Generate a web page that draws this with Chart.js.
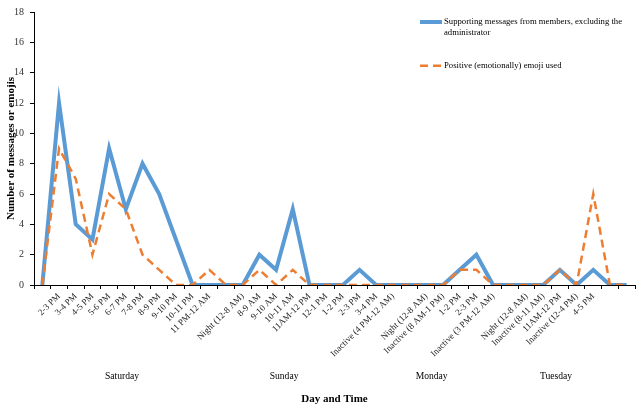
<!DOCTYPE html>
<html>
<head>
<meta charset="utf-8">
<script src="https://cdn.jsdelivr.net/npm/chart.js@4/dist/chart.umd.min.js"></script>
<style>
  html, body { margin: 0; padding: 0; background: #fff; }
  #wrap { position: relative; width: 642px; height: 407px; }
</style>
</head>
<body>
<div id="wrap"><canvas id="c" width="642" height="407"></canvas></div>
<script>
// ---- data ----
const categories = [
  "", "2-3 PM", "3-4 PM", "4-5 PM", "5-6 PM", "6-7 PM", "7-8 PM", "8-9 PM", "9-10 PM", "10-11 PM", "11 PM-12 AM", "",
  "Night (12-8 AM)", "8-9 AM", "9-10 AM", "10-11 AM", "11AM-12 PM", "12-1 PM", "1-2 PM", "2-3 PM", "3-4 PM", "Inactive (4 PM-12 AM)", "",
  "Night (12-8 AM)", "Inactive (8 AM-1 PM)", "1-2 PM", "2-3 PM", "Inactive (3 PM-12 AM)", "",
  "Night (12-8 AM)", "Inactive (8-11 AM)", "11AM-12 PM", "Inactive (12-4 PM)", "4-5 PM", "", ""
];
const supportingMessages = [0, 12, 4, 3, 9, 5, 8, 6, 3, 0, 0, 0, 0, 2, 1, 5, 0, 0, 0, 1, 0, 0, 0, 0, 0, 1, 2, 0, 0, 0, 0, 1, 0, 1, 0, 0];
const positiveEmoji      = [0, 9, 7, 2, 6, 5, 2, 1, 0, 0, 1, 0, 0, 1, 0, 1, 0, 0, 0, 0, 0, 0, 0, 0, 0, 1, 1, 0, 0, 0, 0, 1, 0, 6, 0, 0];
const seriesNames = ["Supporting messages from members, excluding the administrator", "Positive (emotionally) emoji used"];
const dayNames = ["Saturday", "Sunday", "Monday", "Tuesday"];
const yTicks = [0, 2, 4, 6, 8, 10, 12, 14, 16, 18];
const xTitle = "Day and Time";
const yTitle = "Number of messages or emojis";

// ---- drawing ----
const FONT = '"Liberation Serif", "Times New Roman", serif';

const dayLabelPlugin = {
  id: 'dayLabels',
  afterDraw(chart, args, opts) {
    const ctx = chart.ctx, xs = chart.scales.x;
    ctx.save();
    ctx.font = '9.6px ' + FONT;
    ctx.fillStyle = '#000';
    ctx.textAlign = 'center';
    ctx.textBaseline = 'middle';
    dayNames.forEach((d, i) => {
      ctx.fillText(d, xs.getPixelForValue(opts.centers[i]), opts.y);
    });
    ctx.restore();
  }
};

const legendPlugin = {
  id: 'wrapLegend',
  afterDraw(chart, args, opts) {
    const ctx = chart.ctx;
    ctx.save();
    ctx.font = opts.fontSize + 'px ' + FONT;
    ctx.fillStyle = '#000';
    ctx.textAlign = 'left';
    ctx.textBaseline = 'middle';
    chart.data.datasets.forEach((ds, i) => {
      const y = opts.rows[i];
      ctx.save();
      ctx.strokeStyle = ds.borderColor;
      ctx.lineWidth = ds.borderWidth;
      ctx.setLineDash(ds.borderDash || []);
      ctx.beginPath();
      ctx.moveTo(opts.x, y);
      ctx.lineTo(opts.x + opts.sample, y);
      ctx.stroke();
      ctx.restore();
      // wrap text
      const words = ds.label.split(' ');
      const lines = [];
      let cur = '';
      words.forEach(w => {
        const t = cur ? cur + ' ' + w : w;
        if (ctx.measureText(t).width > opts.maxWidth && cur) { lines.push(cur); cur = w; }
        else cur = t;
      });
      if (cur) lines.push(cur);
      lines.forEach((l, k) => ctx.fillText(l, opts.x + opts.sample + 2, y + k * opts.lineHeight));
    });
    ctx.restore();
  }
};

new Chart(document.getElementById('c'), {
  type: 'line',
  data: {
    labels: categories,
    datasets: [
      { label: seriesNames[0], data: supportingMessages, borderColor: '#5B9BD5', backgroundColor: '#5B9BD5',
        borderWidth: 4, pointRadius: 0, tension: 0, fill: false, order: 1, borderJoinStyle: 'miter', borderCapStyle: 'butt' },
      { label: seriesNames[1], data: positiveEmoji, borderColor: '#ED7D31', backgroundColor: '#ED7D31',
        borderWidth: 2.5, borderDash: [8, 5], pointRadius: 0, tension: 0, fill: false, order: 0 }
    ]
  },
  options: {
    responsive: false,
    animation: false,
    devicePixelRatio: 1,
    layout: { padding: { left: 0, top: 7, right: 7, bottom: 1 } },
    plugins: {
      legend: { display: false },
      tooltip: { enabled: false },
      dayLabels: { centers: [4.77, 14.48, 23.32, 30.77], y: 376.5 },
      wrapLegend: { x: 420, sample: 22, rows: [22, 65.7], lineHeight: 10.7, maxWidth: 182, fontSize: 8.7 }
    },
    scales: {
      x: {
        type: 'category',
        offset: true,
        grid: { offset: true, drawOnChartArea: false, drawTicks: true, tickLength: 4, color: '#000', lineWidth: 1 },
        border: { display: true, color: '#000', width: 1 },
        ticks: { autoSkip: false, maxRotation: 45, minRotation: 45, padding: 2, color: '#222',
                 font: { family: FONT, size: 9 } },
        title: { display: true, text: xTitle, color: '#000', padding: { top: 0, bottom: 0 },
                 font: { family: FONT, size: 11, weight: 'bold' } },
        afterFit(s) { s.height = 121; }
      },
      y: {
        min: 0, max: 18,
        afterBuildTicks(s) { s.ticks = yTicks.map(v => ({ value: v })); },
        grid: { drawOnChartArea: false, drawTicks: true, tickLength: 4, color: '#000', lineWidth: 1 },
        border: { display: true, color: '#000', width: 1 },
        ticks: { padding: 6, color: '#333', font: { family: FONT, size: 10 } },
        title: { display: true, text: yTitle, color: '#000', padding: { top: 5, bottom: 0 },
                 font: { family: FONT, size: 11, weight: 'bold' } },
        afterFit(s) { s.width = 34; }
      }
    }
  },
  plugins: [dayLabelPlugin, legendPlugin]
});
</script>
</body>
</html>
